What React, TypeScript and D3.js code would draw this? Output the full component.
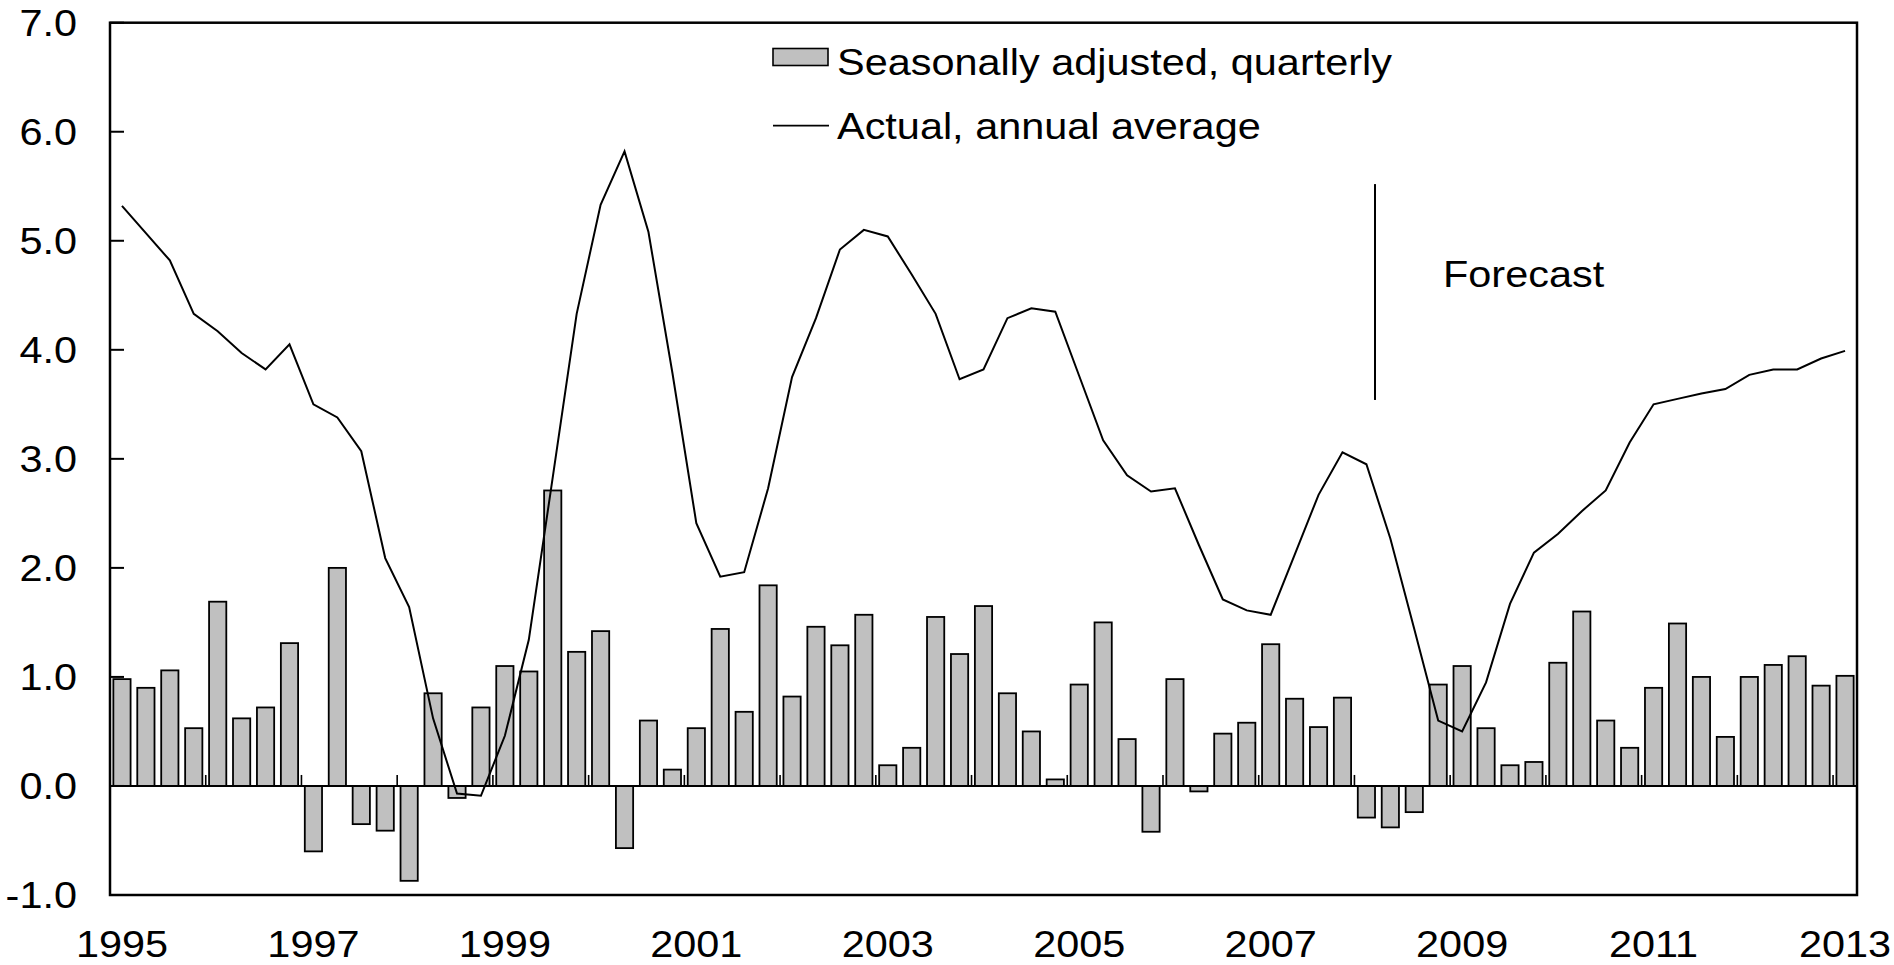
import React from "react";
import * as d3 from "d3";

const years = d3.range(1995, 2014);
const categories: string[] = [];
years.forEach((y) => {
  [1, 2, 3, 4].forEach((q) => {
    if (y < 2013 || q === 1) categories.push(`${y}Q${q}`);
  });
});

const quarterlySA = [
  0.98, 0.9, 1.06, 0.53, 1.69, 0.62, 0.72, 1.31,
  -0.6, 2.0, -0.35, -0.41, -0.87, 0.85, -0.11, 0.72,
  1.1, 1.05, 2.71, 1.23, 1.42, -0.57, 0.6, 0.15,
  0.53, 1.44, 0.68, 1.84, 0.82, 1.46, 1.29, 1.57,
  0.19, 0.35, 1.55, 1.21, 1.65, 0.85, 0.5, 0.06,
  0.93, 1.5, 0.43, -0.42, 0.98, -0.05, 0.48, 0.58,
  1.3, 0.8, 0.54, 0.81, -0.29, -0.38, -0.24, 0.93,
  1.1, 0.53, 0.19, 0.22, 1.13, 1.6, 0.6, 0.35,
  0.9, 1.49, 1.0, 0.45, 1.0, 1.11, 1.19, 0.92,
  1.01,
];

const annualAverage = [
  5.32, 5.07, 4.82, 4.33, 4.17, 3.97, 3.82, 4.05,
  3.5, 3.38, 3.07, 2.09, 1.64, 0.62, -0.07, -0.09,
  0.46, 1.34, 2.83, 4.33, 5.33, 5.82, 5.08, 3.79,
  2.41, 1.92, 1.96, 2.73, 3.75, 4.29, 4.92, 5.1,
  5.04, 4.69, 4.33, 3.73, 3.82, 4.29, 4.38, 4.35,
  3.76, 3.17, 2.85, 2.7, 2.73, 2.21, 1.71, 1.61,
  1.57, 2.12, 2.67, 3.06, 2.95, 2.27, 1.44, 0.6,
  0.5, 0.95, 1.67, 2.14, 2.31, 2.52, 2.71, 3.15,
  3.5, 3.55, 3.6, 3.64, 3.77, 3.82, 3.82, 3.92,
  3.99,
];

const yTicks = [-1, 0, 1, 2, 3, 4, 5, 6, 7];
const yTickLabels = ["-1.0", "0.0", "1.0", "2.0", "3.0", "4.0", "5.0", "6.0", "7.0"];
const xLabelYears = ["1995", "1997", "1999", "2001", "2003", "2005", "2007", "2009", "2011", "2013"];
const legendLabels = ["Seasonally adjusted, quarterly", "Actual, annual average"];
const forecastLabel = "Forecast";
const lastActualQuarter = "2008Q1";
const forecastLineRange = [3.54, 5.52];

const W = 1894;
const H = 965;
const left = 110;
const right = 1857;
const top = 22.7;
const bottom = 895;
const FONT = "'Liberation Sans', Arial, Helvetica, sans-serif";
const FS = 37;
const SX = 1.12;

export default function App() {
  const x = d3
    .scaleBand<string>()
    .domain(categories)
    .range([left, right])
    .paddingInner(0.28)
    .paddingOuter(0.14);
  const y = d3.scaleLinear().domain([-1, 7]).range([bottom, top]);
  const bw = x.bandwidth();
  const step = x.step();
  const cx = (c: string) => (x(c) as number) + bw / 2;

  const line = d3
    .line<number>()
    .x((_, i) => cx(categories[i]))
    .y((d) => y(d));

  const yearTicks = categories.filter((c, i) => i > 0 && c.endsWith("Q1"));
  const fx = (x(lastActualQuarter) as number) + bw;

  const txt = (
    s: string,
    tx: number,
    ty: number,
    anchor: "start" | "middle" | "end",
    key?: string
  ) => (
    <text
      key={key}
      transform={`translate(${tx},${ty}) scale(${SX},1)`}
      textAnchor={anchor}
      fontFamily={FONT}
      fontSize={FS}
      fill="#000"
    >
      {s}
    </text>
  );

  return (
    <svg
      width={W}
      height={H}
      style={{ position: "absolute", left: 0, top: 0, background: "#fff" }}
    >
      <rect x={0} y={0} width={W} height={H} fill="#fff" />
      {quarterlySA.map((v, i) => (
        <rect
          key={i}
          x={x(categories[i])}
          y={Math.min(y(v), y(0))}
          width={bw}
          height={Math.abs(y(v) - y(0))}
          fill="#c0c0c0"
          stroke="#000"
          strokeWidth={1.8}
        />
      ))}
      <line x1={left} x2={right} y1={y(0)} y2={y(0)} stroke="#000" strokeWidth={2} />
      {yearTicks.map((c) => {
        const xx = (x(c) as number) - (step - bw) / 2;
        return (
          <line key={c} x1={xx} x2={xx} y1={y(0)} y2={y(0) - 11} stroke="#000" strokeWidth={1.6} />
        );
      })}
      <path d={line(annualAverage) || ""} fill="none" stroke="#000" strokeWidth={2} strokeLinejoin="miter" />
      <line
        x1={fx}
        x2={fx}
        y1={y(forecastLineRange[0])}
        y2={y(forecastLineRange[1])}
        stroke="#000"
        strokeWidth={2}
      />
      {txt(forecastLabel, 1443, 286.5, "start")}
      <rect x={left} y={top} width={right - left} height={bottom - top} fill="none" stroke="#000" strokeWidth={2.5} />
      {yTicks.map((t, i) => (
        <g key={t}>
          <line x1={left} x2={left + 14} y1={y(t)} y2={y(t)} stroke="#000" strokeWidth={2} />
          {txt(yTickLabels[i], 77, y(t) + 13, "end")}
        </g>
      ))}
      {xLabelYears.map((yr) => txt(yr, cx(`${yr}Q1`), 957, "middle", yr))}
      <rect x={773} y={48.5} width={55} height={17} fill="#c0c0c0" stroke="#000" strokeWidth={1.6} />
      {txt(legendLabels[0], 837, 74.5, "start")}
      <line x1={773} x2={829} y1={125.6} y2={125.6} stroke="#000" strokeWidth={1.6} />
      {txt(legendLabels[1], 837, 139, "start")}
    </svg>
  );
}
